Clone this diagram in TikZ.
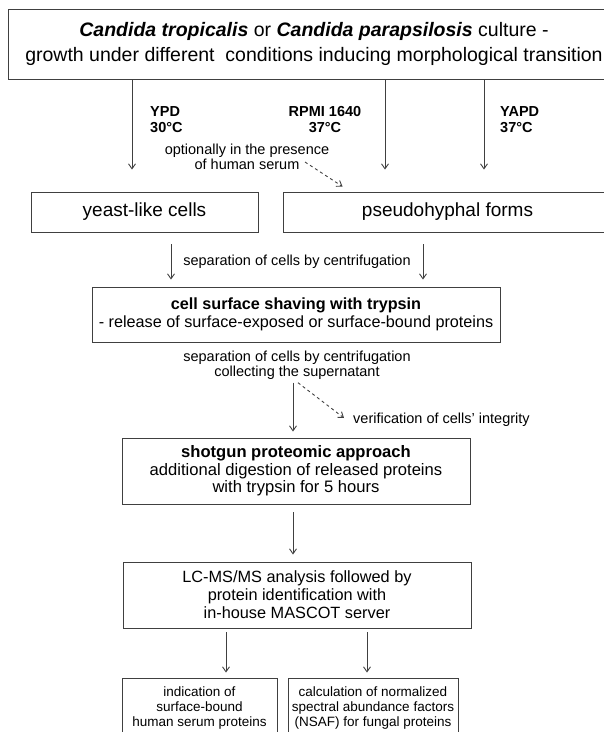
\documentclass[tikz,border=0pt]{standalone}
\usepackage{fontspec}
\setmainfont{Liberation Sans}
\usetikzlibrary{arrows.meta}
\newcommand{\fs}[2]{\fontsize{#1}{#2}\selectfont}

\begin{document}
\begin{tikzpicture}[x=1pt,y=-1pt,>={Straight Barb[length=5pt,width=7pt]},
    box/.style={draw=black!75,line width=0.9pt,inner sep=0pt,align=center},
    lbl/.style={inner sep=0pt,align=center,font=\fs{14.5}{15.5}},
    flow/.style={->,draw=black!75,line width=0.9pt}]
  \useasboundingbox (0,0) rectangle (604,732);

  \node[box,minimum width=612,minimum height=70,font=\fs{19.5}{25}] (1) at (314,44)
    {\textbf{\textit{Candida tropicalis}} or \textbf{\textit{Candida parapsilosis}} culture -\\growth under different~ conditions inducing morphological transition};
  \node[box,minimum width=227,minimum height=40,font=\fs{19}{22}] (2) at (144.5,212) {yeast-like cells};
  \node[box,minimum width=329,minimum height=40,font=\fs{19}{22}] (3) at (447.5,212) {pseudohyphal forms};
  \node[box,minimum width=408,minimum height=55,font=\fs{16.2}{18}] (4) at (296,314.5)
    {\textbf{cell surface shaving with trypsin}\\- release of surface-exposed or surface-bound proteins};
  \node[box,minimum width=348,minimum height=66,font=\fs{16.6}{17.5}] (5) at (296,471)
    {\textbf{shotgun proteomic approach}\\additional digestion of released proteins\\with trypsin for 5 hours};
  \node[box,minimum width=348,minimum height=66,font=\fs{16.3}{18}] (6) at (297,595)
    {LC-MS/MS analysis followed by\\protein identification with\\in-house MASCOT server};
  \node[box,minimum width=155,minimum height=60,font=\fs{13.5}{14.7}] (7) at (199.5,708)
    {indication of\\surface-bound\\human serum proteins};
  \node[box,minimum width=170,minimum height=60,font=\fs{13.5}{14.7}] (8) at (373,708)
    {calculation of normalized\\spectral abundance factors\\(NSAF) for fungal proteins};

  \node[lbl,anchor=west,align=left,font=\fs{14.5}{16}\bfseries] (l1) at (150,120) {YPD\\30°C};
  \node[lbl,font=\fs{14.5}{16}\bfseries] (l2) at (325,120) {RPMI 1640\\37°C};
  \node[lbl,anchor=west,align=left,font=\fs{14.5}{16}\bfseries] (l3) at (500,120) {YAPD\\37°C};
  \node[lbl] (l4) at (247,157) {optionally in the presence\\of human serum};
  \node[lbl] (l5) at (297,262) {separation of cells by centrifugation};
  \node[lbl] (l6) at (297,365) {separation of cells by centrifugation\\collecting the supernatant};
  \node[lbl,anchor=west] (l7) at (353,420) {verification of cells' integrity};
  \coordinate (d1) at (305,162);

  \draw[flow,shorten >=22pt] ([xshift=-182pt]1.south) -- ([xshift=-12.5pt]2.north);
  \draw[flow,shorten >=22pt] ([xshift=71pt]1.south) -- ([xshift=-62.5pt]3.north);
  \draw[flow,shorten >=22pt] ([xshift=170pt]1.south) -- ([xshift=36.5pt]3.north);
  \draw[flow,dashed] (d1) -- ([xshift=60pt,yshift=5pt]3.north west);
  \draw[flow,shorten <=12pt,shorten >=7pt] ([xshift=26.5pt]2.south) -- ([xshift=-125pt]4.north);
  \draw[flow,shorten <=12pt,shorten >=7pt] ([xshift=-24.5pt]3.south) -- ([xshift=127pt]4.north);
  \draw[flow,shorten <=3pt,shorten >=6pt] ([xshift=-4pt]l6.south) -- ([xshift=-3pt]5.north);
  \draw[flow,dashed] ([xshift=1pt,yshift=-3pt]l6.south) -- ([xshift=-9pt,yshift=2pt]l7.west);
  \draw[flow,shorten <=8pt,shorten >=7pt] ([xshift=-3pt]5.south) -- ([xshift=-4pt]6.north);
  \draw[flow,shorten <=4pt,shorten >=5pt] ([xshift=-71pt]6.south) -- ([xshift=26.5pt]7.north);
  \draw[flow,shorten <=4pt,shorten >=5pt] ([xshift=70pt]6.south) -- ([xshift=-6pt]8.north);
\end{tikzpicture}
\end{document}
